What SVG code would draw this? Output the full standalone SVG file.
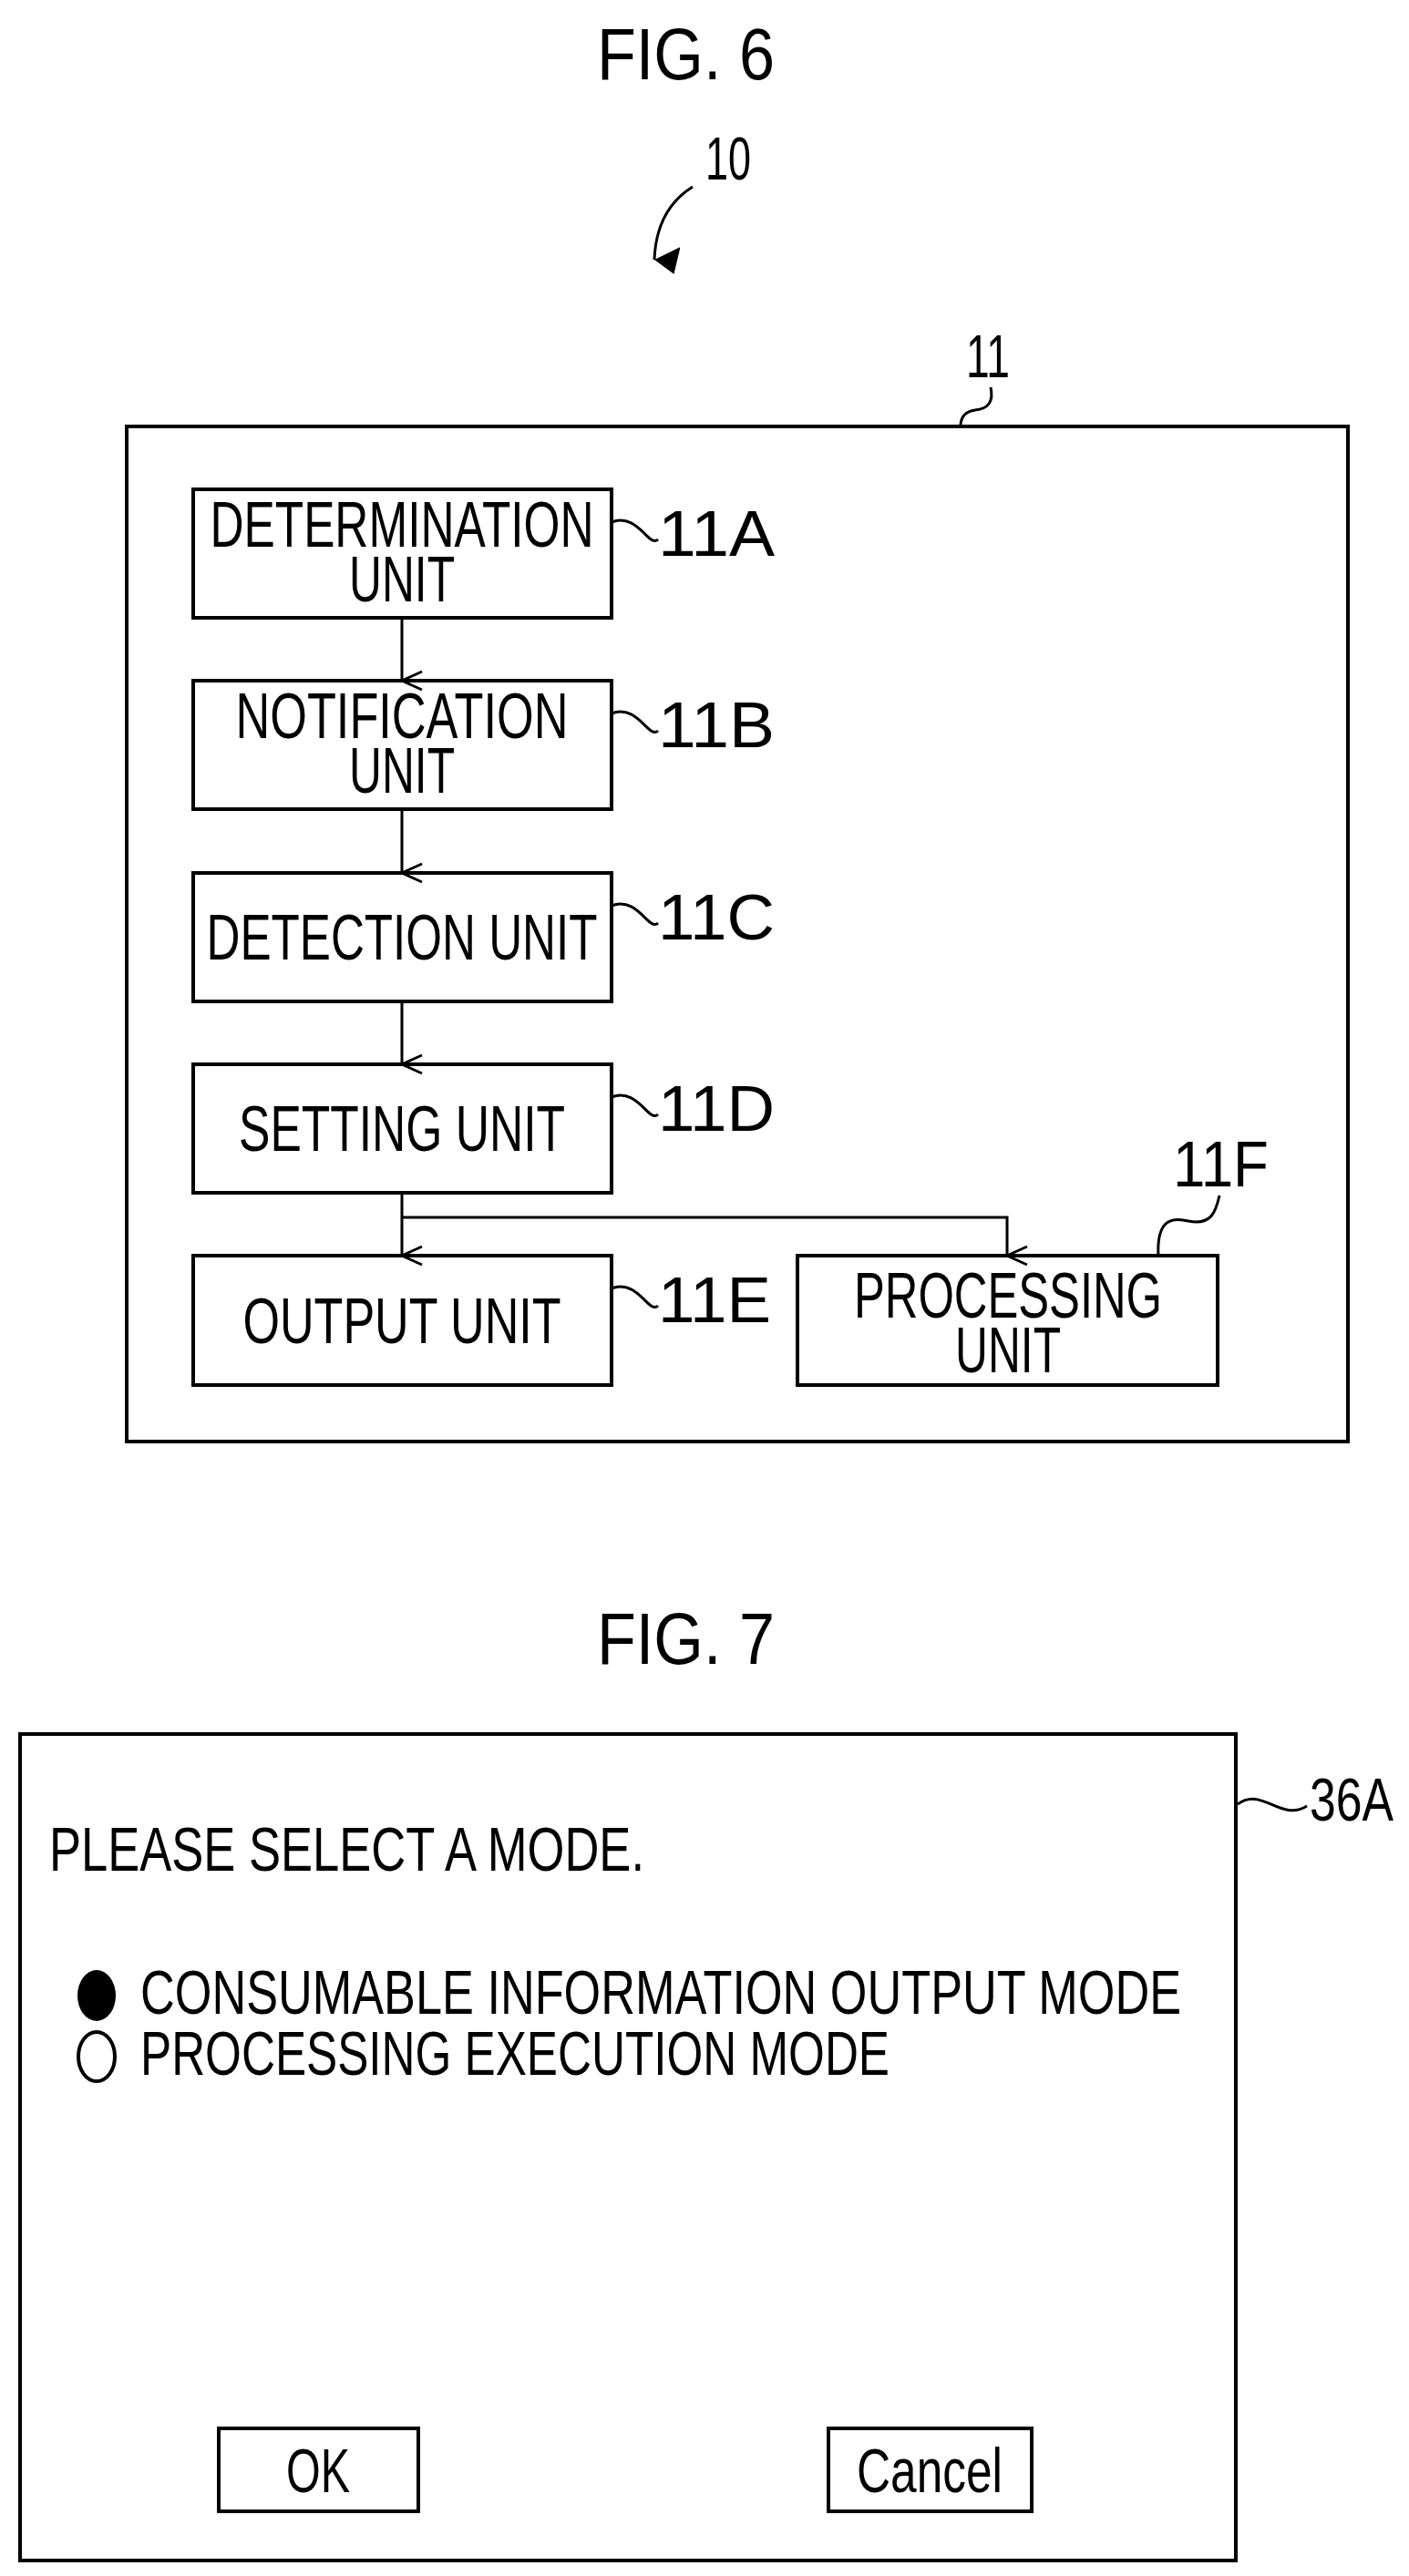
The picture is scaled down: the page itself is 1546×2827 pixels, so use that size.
<svg xmlns="http://www.w3.org/2000/svg" width="1546" height="2827" viewBox="0 0 1546 2827">
<style>
text{font-family:"Liberation Sans",Arial,sans-serif;fill:#000}
.t{font-size:70px;text-anchor:middle}
.l{font-size:70px}
.m{font-size:68px}
.b{fill:#fff;stroke:#000;stroke-width:4}
.c{fill:none;stroke:#000;stroke-width:3}
</style>
<defs><marker id="a" markerWidth="24" markerHeight="26" refX="12" refY="24" orient="auto" markerUnits="userSpaceOnUse" viewBox="0 0 24 26"><path d="M2,2 L12,24 L22,2" fill="none" stroke="#000" stroke-width="3"/></marker>
<marker id="a2" markerWidth="30" markerHeight="30" refX="15" refY="28" orient="auto" markerUnits="userSpaceOnUse" viewBox="0 0 30 30"><path d="M0,0 L15,28 L30,6 Z" fill="#000"/></marker></defs>
<rect width="1546" height="2827" fill="#fff"/>
<text x="655" y="87" font-size="80" textLength="195" lengthAdjust="spacingAndGlyphs">FIG. 6</text>
<text x="774" y="197" font-size="66" textLength="50" lengthAdjust="spacingAndGlyphs">10</text>
<path class="c" d="M760,205 Q720,230 718,285" marker-end="url(#a2)"/>
<text x="1060" y="414" font-size="66" textLength="48" lengthAdjust="spacingAndGlyphs">11</text>
<path class="c" d="M1087,425 Q1092,448 1070,450 Q1055,452 1054,466"/>
<rect class="b" x="139" y="468" width="1340" height="1114"/>
<g id="n11A"><rect class="b" x="212" y="537" width="459" height="141"/><text class="t" x="441" y="600" textLength="421" lengthAdjust="spacingAndGlyphs">DETERMINATION</text><text class="t" x="441" y="660" textLength="116" lengthAdjust="spacingAndGlyphs">UNIT</text><path class="c" d="M671,573 C700,562 712,602 722,592"/><text class="l" x="722" y="610" textLength="128" lengthAdjust="spacingAndGlyphs">11A</text></g>
<g id="n11B"><rect class="b" x="212" y="747" width="459" height="141"/><text class="t" x="441" y="810" textLength="365" lengthAdjust="spacingAndGlyphs">NOTIFICATION</text><text class="t" x="441" y="870" textLength="116" lengthAdjust="spacingAndGlyphs">UNIT</text><path class="c" d="M671,783 C700,772 712,812 722,802"/><text class="l" x="722" y="820" textLength="128" lengthAdjust="spacingAndGlyphs">11B</text></g>
<g id="n11C"><rect class="b" x="212" y="958" width="459" height="141"/><text class="t" x="441" y="1053" textLength="429" lengthAdjust="spacingAndGlyphs">DETECTION UNIT</text><path class="c" d="M671,994 C700,983 712,1023 722,1013"/><text class="l" x="722" y="1031" textLength="128" lengthAdjust="spacingAndGlyphs">11C</text></g>
<g id="n11D"><rect class="b" x="212" y="1168" width="459" height="141"/><text class="t" x="441" y="1263" textLength="358" lengthAdjust="spacingAndGlyphs">SETTING UNIT</text><path class="c" d="M671,1204 C700,1193 712,1233 722,1223"/><text class="l" x="722" y="1241" textLength="128" lengthAdjust="spacingAndGlyphs">11D</text></g>
<g id="n11E"><rect class="b" x="212" y="1378" width="459" height="142"/><text class="t" x="441" y="1474" textLength="349" lengthAdjust="spacingAndGlyphs">OUTPUT UNIT</text><path class="c" d="M671,1414 C700,1403 712,1443 722,1433"/><text class="l" x="722" y="1451" textLength="124" lengthAdjust="spacingAndGlyphs">11E</text></g>
<g id="n11F"><rect class="b" x="875" y="1378" width="461" height="142"/><text class="t" x="1106" y="1446" textLength="338" lengthAdjust="spacingAndGlyphs">PROCESSING</text><text class="t" x="1106" y="1506" textLength="116" lengthAdjust="spacingAndGlyphs">UNIT</text><path class="c" d="M1271,1378 C1269,1340 1284,1335 1304,1340 C1329,1345 1334,1330 1338,1312"/><text class="l" x="1287" y="1302" textLength="105" lengthAdjust="spacingAndGlyphs">11F</text></g>
<g id="connectors">
<path class="c" d="M441,678 V747" marker-end="url(#a)"/>
<path class="c" d="M441,888 V958" marker-end="url(#a)"/>
<path class="c" d="M441,1099 V1168" marker-end="url(#a)"/>
<path class="c" d="M441,1309 V1378" marker-end="url(#a)"/>
<path class="c" d="M441,1336 H1105 V1378" marker-end="url(#a)"/>
</g>
<text x="655" y="1826" font-size="80" textLength="195" lengthAdjust="spacingAndGlyphs">FIG. 7</text>
<g id="screen36A">
<rect class="b" x="22" y="1903" width="1334" height="907"/>
<path class="c" d="M1358,1980 C1385,1960 1405,2000 1434,1982"/>
<text x="1437" y="1998" font-size="66" textLength="92" lengthAdjust="spacingAndGlyphs">36A</text>
<text class="m" x="54" y="2053" textLength="653" lengthAdjust="spacingAndGlyphs">PLEASE SELECT A MODE.</text>
<ellipse cx="106" cy="2190" rx="21" ry="28" fill="#000"/>
<text class="m" x="154" y="2210" textLength="1142" lengthAdjust="spacingAndGlyphs">CONSUMABLE INFORMATION OUTPUT MODE</text>
<ellipse cx="106" cy="2257" rx="20" ry="27" fill="#fff" stroke="#000" stroke-width="4"/>
<text class="m" x="154" y="2277" textLength="822" lengthAdjust="spacingAndGlyphs">PROCESSING EXECUTION MODE</text>
</g>
<g id="ok"><rect class="b" x="240" y="2665" width="219" height="91"/><text class="m" x="349" y="2735" text-anchor="middle" textLength="70" lengthAdjust="spacingAndGlyphs">OK</text></g>
<g id="cancel"><rect class="b" x="909" y="2665" width="223" height="91"/><text class="m" x="1020" y="2735" text-anchor="middle" textLength="160" lengthAdjust="spacingAndGlyphs">Cancel</text></g>
</svg>
